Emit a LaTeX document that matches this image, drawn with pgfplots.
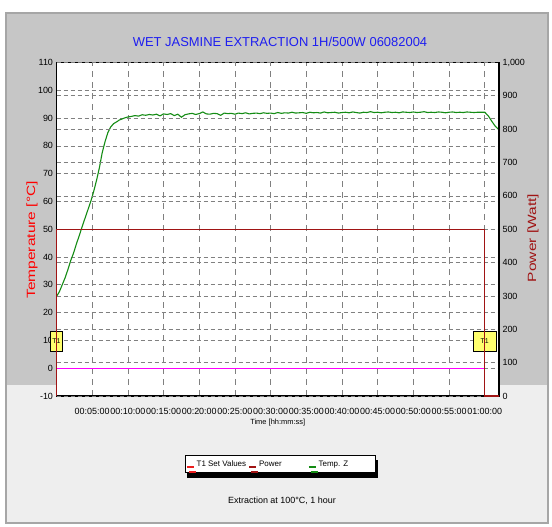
\documentclass[border=0pt]{standalone}
\usepackage{graphicx}
\usepackage{pgfplots}
\pgfplotsset{compat=1.18}
\usepackage{fontspec}
\setmainfont{Liberation Sans}
\usetikzlibrary{shadows}
\definecolor{tgreen}{RGB}{20,140,20}
\definecolor{pwr}{RGB}{160,20,20}
\definecolor{setred}{RGB}{235,30,30}
\definecolor{magline}{RGB}{255,0,255}
\definecolor{titleblue}{RGB}{30,30,240}
\definecolor{denseg}{RGB}{198,198,198}
\definecolor{lightg}{RGB}{238,238,238}
\definecolor{tyellow}{RGB}{255,255,110}

\pgfplotstableread{
t T
0 25.8
0.4 27.5
0.8 30.0
1.2 32.5
1.6 35.5
2.0 38.8
2.4 41.5
2.8 44.8
3.2 47.8
3.6 51.0
4.0 54.0
4.4 57.0
4.8 60.0
5.2 63.5
5.6 67.5
6.0 72.0
6.4 77.5
6.8 81.5
7.2 84.8
7.6 86.8
8.0 88.0
8.4 88.6
8.8 89.3
9.2 89.7
9.6 90.1
10.0 90.4
10.5 90.6
11.0 90.9
11.5 90.7
12.0 91.2
12.5 91.0
13.0 91.3
13.5 91.1
14.0 91.4
14.5 90.8
15.0 91.5
15.5 91.3
16.0 91.6
16.5 90.9
17.0 91.4
17.5 90.3
18.0 91.2
18.5 91.5
19.0 91.7
19.5 91.3
20.0 91.6
20.5 92.2
21.0 91.5
21.5 91.4
22.0 91.7
22.5 91.6
23.0 91.0
23.5 91.8
24.0 91.6
24.5 91.7
25.0 91.4
25.5 91.8
26.0 91.6
26.5 91.9
27.0 91.5
27.5 91.7
28.0 91.8
28.5 91.6
29.0 91.9
29.5 91.7
30.0 91.8
30.5 91.6
31.0 92.0
31.5 91.7
32.0 91.9
32.5 91.8
33.0 92.1
33.5 91.8
34.0 91.9
34.5 92.0
35.0 91.7
35.5 92.1
36.0 91.9
36.5 92.0
37.0 91.8
37.5 92.2
38.0 91.9
38.5 92.0
39.0 92.1
39.5 91.8
40.0 92.0
40.5 92.1
41.0 91.9
41.5 92.2
42.0 92.0
42.5 91.8
43.0 92.1
43.5 92.0
44.0 92.3
44.5 92.0
45.0 92.1
45.5 91.9
46.0 92.1
46.5 92.2
47.0 92.0
47.5 92.1
48.0 91.9
48.5 92.2
49.0 92.1
49.5 92.0
50.0 92.2
50.5 92.0
51.0 92.1
51.5 92.3
52.0 92.0
52.5 92.1
53.0 92.0
53.5 92.2
54.0 92.1
54.5 91.9
55.0 92.1
55.5 92.2
56.0 92.0
56.5 92.1
57.0 92.0
57.5 92.2
58.0 92.1
58.5 92.0
59.0 92.1
59.5 92.1
60.0 92.1
60.5 90.8
61.0 88.8
61.5 87.0
61.9 86.0
}\temptable

\pgfplotstableread{
t P
0 0
0 500
60 500
60 0
62 0
}\powertable

\pgfplotstableread{
t S
0 0
60 0
}\settable

\begin{document}
\begin{tikzpicture}
\path[use as bounding box] (0,0) rectangle (552bp,527bp);
\fill[white] (0,0) rectangle (552bp,527bp);
\fill[lightg] (6bp,4bp) rectangle (548bp,514bp);
\fill[denseg] (6bp,142bp) rectangle (548bp,514bp);
\draw[gray!70, line width=1.5bp] (6bp,4bp) rectangle (548bp,514bp);

\begin{axis}[
  scale only axis, width=442.5bp, height=333.5bp,
  at={(56.5bp,131bp)}, anchor=south west,
  xmin=0, xmax=62, ymin=-10, ymax=110,
  clip=false,
  axis background/.style={fill=white},
  xtick={5,10,...,60},
  xticklabels={00:05:00,00:10:00,00:15:00,00:20:00,00:25:00,00:30:00,00:35:00,00:40:00,00:45:00,00:50:00,00:55:00,01:00:00},
  ytick={-10,0,...,110},
  major tick length=0pt,
  xmajorgrids, ymajorgrids,
  grid style={gray, line width=0.7bp},
  x grid style={dash pattern=on 6bp off 5bp},
  y grid style={dash pattern=on 4bp off 3bp},
  axis line style={black, line width=1.2bp},
  /pgf/number format/assume math mode=true,
  tick label style={font=\fontsize{9}{10}\selectfont},
  xticklabel style={anchor=center, yshift=-15.5bp},
  yticklabel style={anchor=east},
  xlabel={Time [hh:mm:ss]},
  xlabel style={at={(axis description cs:0.5,-0.081)}, anchor=center, font=\fontsize{7.5}{9}\selectfont},
  ylabel={\scalebox{1.3}[1]{Temperature [°C]}},
  ylabel style={at={(axis description cs:-0.0554,0.468)}, anchor=center, text=red, font=\fontsize{12}{14}\selectfont},
  legend columns=3,
  legend image code/.code={\draw[#1] (0bp,-3bp) -- (7bp,-3bp);},
  legend style={at={(axis description cs:0.506,-0.177)}, anchor=north, draw=black, line width=0.8bp, fill=white,
    font=\fontsize{8}{9}\selectfont, inner xsep=1bp, inner ysep=3bp,
    general shadow={fill=black, shadow xshift=2bp, shadow yshift=-5bp},
    /tikz/every even column/.style={column sep=0pt}},
]
\draw[black, line width=2.2bp] (rel axis cs:0,0) -- (rel axis cs:1,0);
\addplot[magline, line width=1.2bp, forget plot] table[x=t, y=S] {\settable};
\addplot[tgreen, line width=1.1bp, forget plot] table[x=t, y=T] {\temptable};
\addlegendimage{setred, line width=1.5bp}
\addlegendentry{\makebox[50bp][l]{T1 Set Values}}
\addlegendimage{pwr, line width=1.5bp}
\addlegendentry{\makebox[47bp][l]{Power}}
\addlegendimage{tgreen, line width=1.5bp}
\addlegendentry{\makebox[54bp][l]{Temp. Z}}
\node[draw=black, fill=tyellow, minimum width=12bp, minimum height=20bp, inner sep=0pt, font=\fontsize{7}{8}\selectfont] at (axis cs:0,9.6) {T1};
\node[draw=black, fill=tyellow, minimum width=23bp, minimum height=20bp, inner sep=0pt, font=\fontsize{7}{8}\selectfont] at (axis cs:60,9.6) {T1};
\end{axis}

\begin{axis}[
  scale only axis, width=442.5bp, height=333.5bp,
  at={(56.5bp,131bp)}, anchor=south west,
  xmin=0, xmax=62, ymin=0, ymax=1000,
  clip=false,
  axis x line=none, axis y line*=right,
  y axis line style={-},
  axis line style={-, black, line width=1.2bp},
  ytick={0,100,...,1000},
  major tick length=0pt,
  ymajorgrids,
  grid style={gray, line width=0.7bp},
  y grid style={dash pattern=on 4bp off 3bp},
  /pgf/number format/assume math mode=true,
  /pgf/number format/1000 sep={,},
  tick label style={font=\fontsize{9}{10}\selectfont},
  yticklabel style={anchor=west},
  ylabel={\scalebox{1.3}[1]{Power [Watt]}},
  ylabel style={at={(axis description cs:1.0768,0.474)}, anchor=center, rotate=0, text=pwr, font=\fontsize{12}{14}\selectfont},
]
\addplot[pwr, line width=1.3bp] table[x=t, y=P] {\powertable};
\end{axis}

\node[font=\fontsize{13}{15}\selectfont, text=titleblue] at (280bp,485.5bp) {WET JASMINE EXTRACTION 1H/500W 06082004};
\node[font=\fontsize{9}{11}\selectfont] at (282bp,26bp) {Extraction at 100°C, 1 hour};
\end{tikzpicture}
\end{document}
